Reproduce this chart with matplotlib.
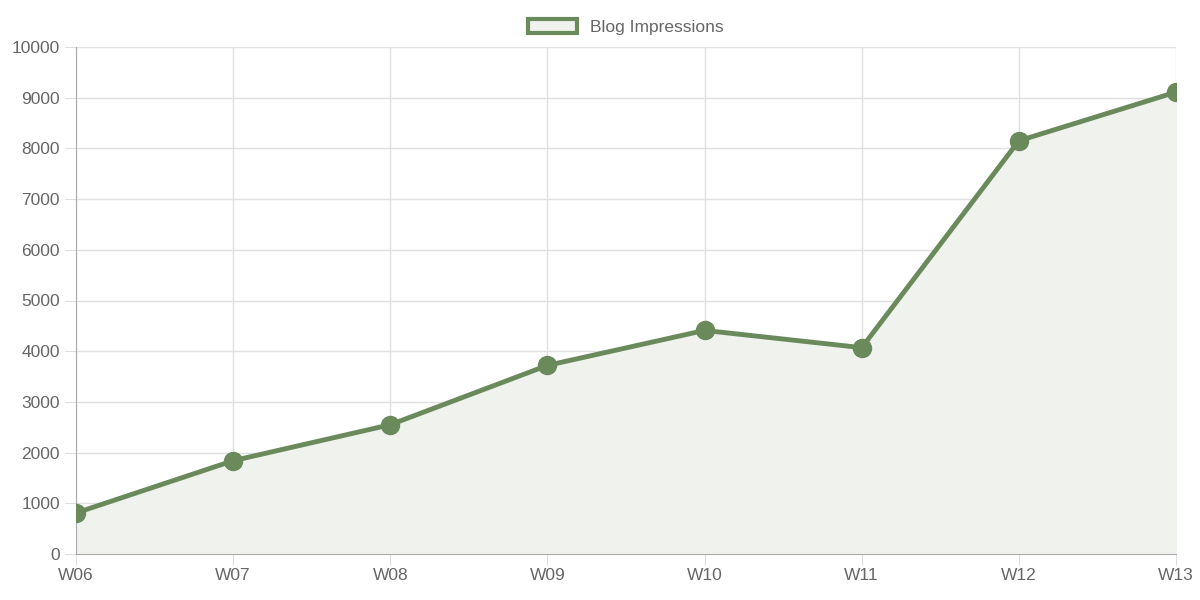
import matplotlib.pyplot as plt

weeks = ["W06", "W07", "W08", "W09", "W10", "W11", "W12", "W13"]
impressions = [810, 1840, 2550, 3720, 4410, 4070, 8150, 9110]

green = "#6a8a5c"
text_col = "#666666"

plt.rcParams['font.family'] = ['Liberation Sans', 'DejaVu Sans']

fig = plt.figure(figsize=(12, 6), dpi=100)
ax = fig.add_axes([76/1200, 1 - 554/600, 1100/1200, 507/600])

x = list(range(len(weeks)))
ax.fill_between(x, impressions, 0, color="#f0f2ee", zorder=1)
ax.plot(x, impressions, color=green, lw=3.5, marker="o", ms=13,
        markerfacecolor=green, markeredgecolor=green, zorder=3,
        label="Blog Impressions")

ax.set_xlim(0, len(weeks) - 1)
ax.set_ylim(0, 10000)
ax.set_xticks(x)
ax.set_xticklabels(weeks)
ax.set_yticks(range(0, 10001, 1000))
ax.grid(True, color="#e0e0e0", lw=1, zorder=0)
ax.set_axisbelow(True)
for s in ["top", "right"]:
    ax.spines[s].set_visible(False)
for s in ["left", "bottom"]:
    ax.spines[s].set_color("#aaaaaa")
ax.tick_params(colors=text_col, labelsize=12.5, length=8, color="#dddddd")
ax.tick_params(axis="x", pad=2)

from matplotlib.patches import Patch
handle = Patch(facecolor="#f0f2ee", edgecolor=green, linewidth=3)
leg = ax.legend([handle], ["Blog Impressions"], loc="lower center",
                bbox_to_anchor=(0.5, 1.0), frameon=False, fontsize=12.5,
                handlelength=2.8, handleheight=0.9, borderaxespad=0.3)
for t in leg.get_texts():
    t.set_color(text_col)

fig.savefig("out.png", dpi=100)
